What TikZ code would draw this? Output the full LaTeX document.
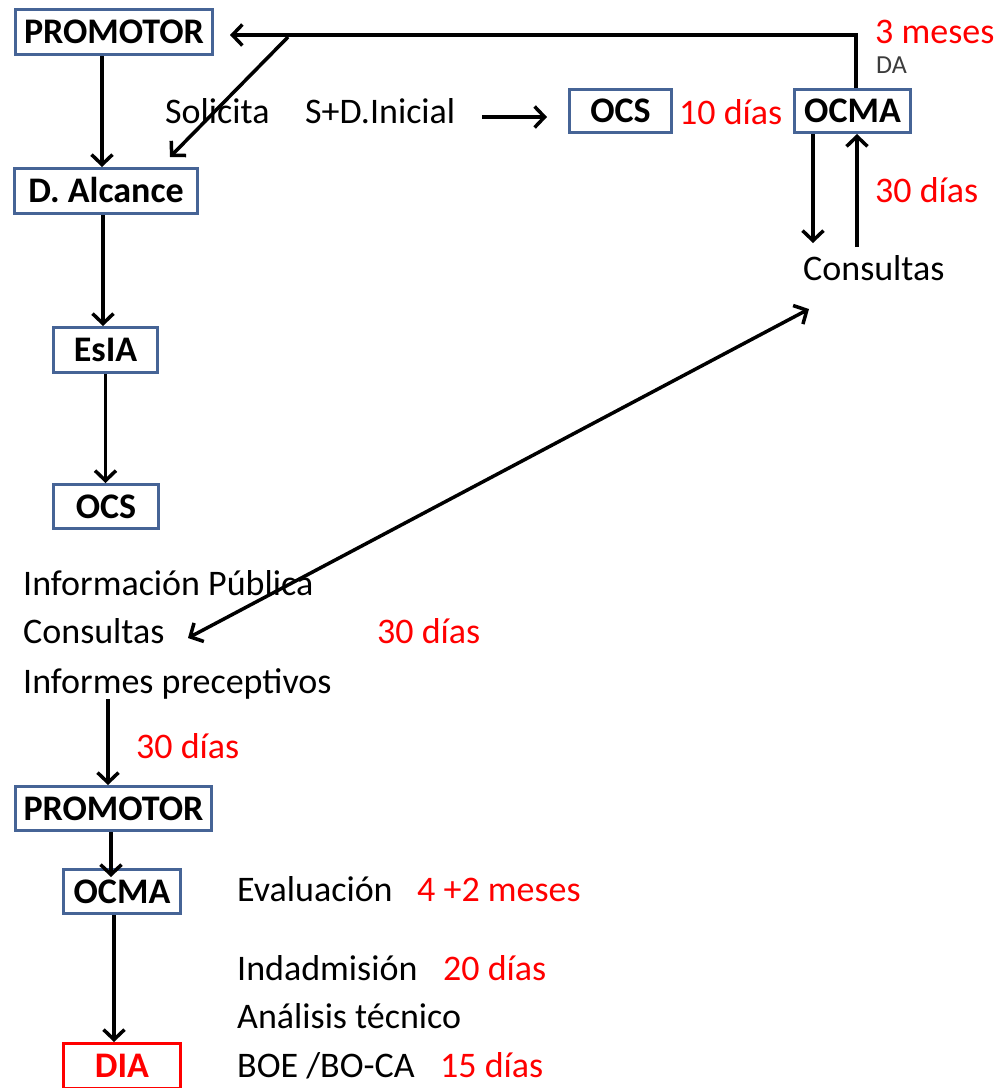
\documentclass[tikz,border=0pt]{standalone}
\usepackage{fontspec}
\setmainfont{Carlito}
\usetikzlibrary{arrows.meta}
\definecolor{boxblue}{RGB}{70,100,150}
\definecolor{myred}{RGB}{255,0,0}
\definecolor{dagray}{RGB}{60,60,60}
\begin{document}
\begin{tikzpicture}[x=1pt,y=-1pt,
  font=\fontsize{36}{43}\selectfont,
  box/.style={draw=boxblue, line width=3pt, fill=white, font=\fontsize{36}{43}\selectfont\bfseries,
    text height=23pt, text depth=0pt, inner sep=0pt},
  lbl/.style={anchor=base west, inner sep=0pt},
  redtxt/.style={text=myred},
  arr/.style={line width=3.5pt, -{Straight Barb[length=10pt,width=21pt]}},
  arrtwo/.style={line width=3.5pt, {Straight Barb[length=10pt,width=21pt]}-{Straight Barb[length=10pt,width=21pt]}}]
\useasboundingbox (0,0) rectangle (999,1088);

% boxes
\node[box, minimum width=197pt, minimum height=45pt] (promT) at (114,32) {PROMOTOR};
\node[box, minimum width=183pt, minimum height=45pt] (dAl) at (106,191) {D. Alcance};
\node[box, minimum width=104pt, minimum height=45pt] (esia) at (105.5,350) {EsIA};
\node[box, minimum width=105pt, minimum height=44pt] (ocsL) at (106,506.5) {OCS};
\node[box, minimum width=102pt, minimum height=43pt] (ocsT) at (620.5,111) {OCS};
\node[box, minimum width=116pt, minimum height=43pt] (ocmaT) at (852.5,111) {OCMA};
\node[box, minimum width=196pt, minimum height=44pt] (promB) at (113.5,808.5) {PROMOTOR};
\node[box, minimum width=117pt, minimum height=44pt] (ocmaB) at (122,891.5) {OCMA};
\node[box, draw=myred, text=myred, minimum width=117pt, minimum height=45pt] (dia) at (122,1066) {DIA};

% texts
\node[lbl] (sol) at (165,123) {Solicita};
\node[lbl] (sdi) at (305,123) {S+D.Inicial};
\node[lbl,redtxt] (t10) at (679,124) {10 días};
\node[lbl,redtxt] (t3m) at (875,43) {3 meses};
\node[lbl, font=\fontsize{26}{30}\selectfont, text=dagray] (da) at (876,73) {DA};
\node[lbl,redtxt] (t30a) at (875,202) {30 días};
\node[lbl] (consR) at (803,280) {Consultas};
\node[lbl] (infpub) at (23,595) {Información Pública};
\node[lbl] (consL) at (23,643) {Consultas};
\node[lbl] (infp) at (23,693) {Informes preceptivos};
\node[lbl,redtxt] (t30b) at (377,643) {30 días};
\node[lbl,redtxt] (t30c) at (136,758) {30 días};
\node[lbl] (eval) at (237,901) {Evaluación};
\node[lbl,redtxt] (t42) at (417,901) {4 +2 meses};
\node[lbl] (indad) at (237,980) {Indadmisión};
\node[lbl,redtxt] (t20) at (443,980) {20 días};
\node[lbl] (anal) at (237,1028) {Análisis técnico};
\node[lbl] (boe) at (237,1077) {BOE /BO-CA};
\node[lbl,redtxt] (t15) at (440,1077) {15 días};

% connectors top
\coordinate (corner) at (856,35);
\coordinate (ptip) at (230,35);
\draw[arr] (ocmaT.north -| corner) -- (corner) -- (ptip);
\coordinate (dstart) at (288,37);
\coordinate (dtip) at (170,157);
\draw[arr] (dstart) -- (dtip);
\coordinate (hs) at (482,117);
\coordinate (he) at (547,117);
\draw[arr] (hs) -- (he);
\coordinate (cdn) at (813,243);
\draw[arr] (ocmaT.south -| cdn) -- (cdn);
\coordinate (cup) at (857,247);
\draw[arr] (cup) -- (ocmaT.south -| cup);
\coordinate (lr) at (809,309);
\coordinate (ll) at (188,638);
\draw[arrtwo] (ll) -- (lr);

% left column
\draw[arr] ([xshift=-12pt]promT.south) -- ([xshift=-4pt]dAl.north);
\draw[arr] ([xshift=-3pt]dAl.south) -- ([xshift=-2.5pt]esia.north);
\draw[arr] (esia.south) -- (esia.south |- ocsL.north);
\coordinate (ia) at ([xshift=-5.5pt]promB.north);
\draw[arr] (ia |- infp.south) -- (ia);
\coordinate (pb) at ([xshift=-2.5pt]promB.south);
\coordinate (obt) at (111,877);
\draw[arr] (pb) -- (obt);
\draw[arr] ([xshift=-8pt]ocmaB.south) -- ([xshift=-8pt]dia.north);
\end{tikzpicture}
\end{document}
